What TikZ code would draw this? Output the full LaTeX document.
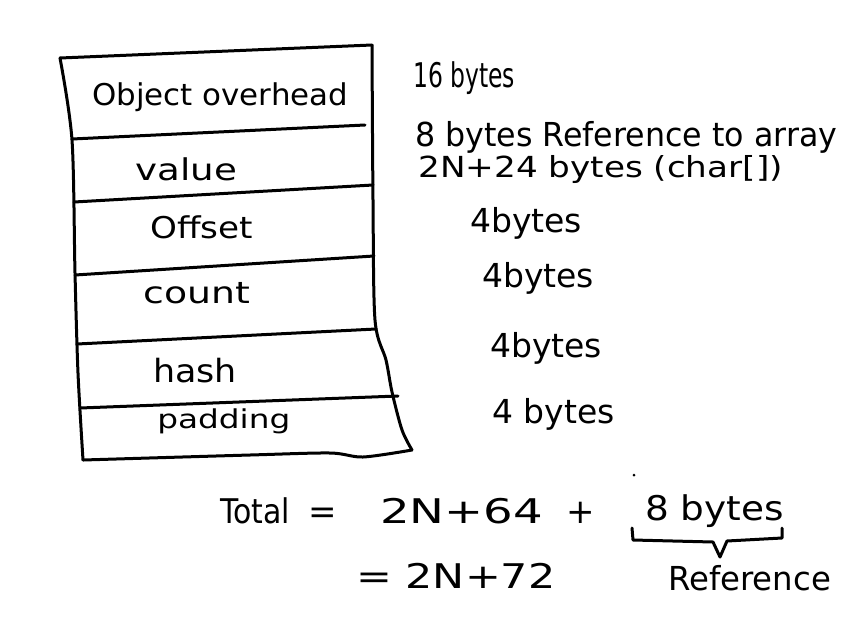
\documentclass[tikz,border=0pt]{standalone}
\usepackage{fontspec}
\setmainfont{DejaVu Sans}
\newcommand{\fs}[1]{\fontsize{#1}{#1}\selectfont}
\begin{document}
\begin{tikzpicture}[x=1pt,y=-1pt,
  pen/.style={line width=3pt, line cap=round, line join=round},
  lbl/.style={inner sep=0pt, anchor=base west}]
\useasboundingbox (0,0) rectangle (849,622);
% box outline
\draw[pen] plot[smooth] coordinates {(60,58) (72,140) (75,273) (78,373) (83,460)};
\draw[pen] (60,58) -- (372,45);
\draw[pen] plot[smooth] coordinates {(372,45) (373,200) (375,320) (386,360) (392,392) (402,430) (412,450)};
\draw[pen] plot[smooth] coordinates {(412,450) (363,457) (330,453) (250,455) (83,460)};
% separators
\draw[pen] (72,139) -- (365,125);
\draw[pen] (74,202) -- (373,185);
\draw[pen] (75,275) -- (374,256);
\draw[pen] (77,344) -- (376,329);
\draw[pen] (80,408) -- (398,396);
% box labels
\node[lbl, font=\fs{30}, xscale=1.03] (obj) at (92,105) {Object overhead};
\node[lbl, font=\fs{30}, xscale=1.24] (val) at (135,180) {value};
\node[lbl, font=\fs{30}, xscale=1.14] (off) at (150,238) {Offset};
\node[lbl, font=\fs{30}, xscale=1.26] (cnt) at (143,303) {count};
\node[lbl, font=\fs{32}, xscale=1.09] (hsh) at (153,382) {hash};
\node[lbl, font=\fs{26}, xscale=1.26] (pad) at (157,428) {padding};
% side labels
\node[lbl, font=\fs{34}, xscale=0.69] (b16) at (413,87) {16 bytes};
\node[lbl, font=\fs{33}, xscale=0.96] (bref) at (415,146) {8 bytes Reference to array};
\node[lbl, font=\fs{29}, xscale=1.18] (b2n) at (418,177) {2N+24 bytes (char[])};
\node[lbl, font=\fs{33}] (b4a) at (470,232) {4bytes};
\node[lbl, font=\fs{33}] (b4b) at (482,287) {4bytes};
\node[lbl, font=\fs{33}] (b4c) at (490,357) {4bytes};
\node[lbl, font=\fs{33}] (b4d) at (492,423) {4 bytes};
% totals
\node[lbl, font=\fs{34}, xscale=0.88] (tot) at (220,523) {Total};
\node[lbl, font=\fs{34}] (eqa) at (308,523) {=};
\node[lbl, font=\fs{34}, xscale=1.37] (sum) at (380,523) {2N+64};
\node[lbl, font=\fs{34}] (pls) at (566,523) {+};
\node[lbl, font=\fs{34}, xscale=1.1] (eig) at (645,520) {8 bytes};
\node[lbl, font=\fs{34}, xscale=1.26] (res) at (356,588) {= 2N+72};
\node[lbl, font=\fs{33}, xscale=0.98] (refl) at (668,590) {Reference};
\fill (634,475) circle (1.5pt);
% brace under "8 bytes"
\draw[pen] (632,528) -- (633,540) -- (713,542) -- (720,557) -- (727,541) -- (782,538) -- (782,528);
\end{tikzpicture}
\end{document}
